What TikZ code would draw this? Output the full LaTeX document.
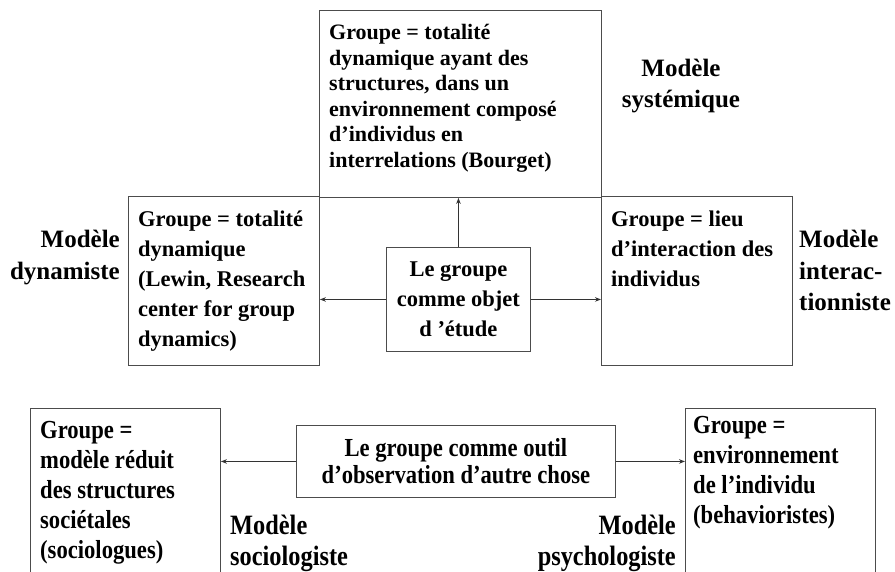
\documentclass[tikz,border=0pt]{standalone}
\usepackage{fontspec}
\setmainfont{Liberation Serif}
\newfontfamily\narrowfont[FakeStretch=0.87]{Liberation Serif}
\usetikzlibrary{arrows.meta,positioning,calc}

\begin{document}
\begin{tikzpicture}[x=1pt,y=-1pt,
  box/.style={draw=black!70,line width=0.9pt,inner sep=0pt,anchor=north west},
  toptxt/.style={font=\bfseries\fontsize{22}{25.5}\selectfont,align=left,inner sep=0pt,anchor=base west},
  midtxt/.style={font=\bfseries\fontsize{22.5}{30}\selectfont,align=left,inner sep=0pt,anchor=base west},
  lowtxt/.style={font=\narrowfont\bfseries\fontsize{26}{30}\selectfont,align=left,inner sep=0pt,anchor=base west},
  lab/.style={font=\bfseries\fontsize{25}{31.5}\selectfont,inner sep=0pt},
  lowlab/.style={font=\narrowfont\bfseries\fontsize{28}{31}\selectfont,inner sep=0pt},
  arr/.style={-{Stealth[length=6pt,width=4.5pt]},line width=0.9pt,draw=black!80}]
  \useasboundingbox (0,0) rectangle (895,572);
  \clip (0,0) rectangle (895,572);

  % boxes
  \node[box,minimum width=282pt,minimum height=187pt] (sysbox) at (319,10) {};
  \node[box,minimum width=191pt,minimum height=169pt] (dynbox) at (128,196) {};
  \node[box,minimum width=191pt,minimum height=169pt] (intbox) at (601,196) {};
  \node[box,minimum width=144pt,minimum height=104pt] (objbox) at (386,247) {};
  \node[box,minimum width=190pt,minimum height=190pt] (socbox) at (30,408) {};
  \node[box,minimum width=319pt,minimum height=72pt] (outbox) at (296,425) {};
  \node[box,minimum width=190pt,minimum height=190pt] (psybox) at (685,408) {};

  % texts in the boxes (base = last line)
  \node[toptxt] (systxt) at (329,167.5) {Groupe = totalité\\dynamique ayant des\\structures, dans un\\environnement composé\\d’individus en\\interrelations (Bourget)};
  \node[midtxt] (dyntxt) at (138,346) {Groupe = totalité\\dynamique\\(Lewin, Research\\center for group\\dynamics)};
  \node[midtxt] (inttxt) at (611,287) {Groupe = lieu\\d’interaction des\\individus};
  \node[midtxt,align=center,anchor=center] (objtxt) at (objbox.center) {Le groupe\\comme objet\\d ’étude};
  \node[lowtxt] (soctxt) at (40,558) {Groupe =\\modèle réduit\\des structures\\sociétales\\(sociologues)};
  \node[lowtxt,font=\narrowfont\bfseries\fontsize{26}{27}\selectfont,align=center,anchor=center] (outtxt) at (outbox.center) {Le groupe comme outil\\d’observation d’autre chose};
  \node[lowtxt] (psytxt) at (693,523) {Groupe =\\environnement\\de l’individu\\(behavioristes)};

  % model names
  \node[lab,align=center,anchor=base] (syslab) at (681,108) {Modèle\\systémique};
  \node[lab,align=right,anchor=base east] (dynlab) at (120,279.5) {Modèle\\dynamiste};
  \node[lab,align=left,anchor=base west] (intlab) at (799,311) {Modèle\\interac-\\tionniste};
  \node[lowlab,align=left,anchor=base west] (soclab) at (230,565) {Modèle\\sociologiste};
  \node[lowlab,align=right,anchor=base east] (psylab) at (676,565) {Modèle\\psychologiste};

  % arrows
  \draw[arr] (objbox.north) -- (objbox.north |- sysbox.south);
  \draw[arr] (objbox.west) -- (objbox.west -| dynbox.east);
  \draw[arr] (objbox.east) -- (objbox.east -| intbox.west);
  \draw[arr] (outbox.west) -- (outbox.west -| socbox.east);
  \draw[arr] (outbox.east) -- (outbox.east -| psybox.west);
\end{tikzpicture}
\end{document}
